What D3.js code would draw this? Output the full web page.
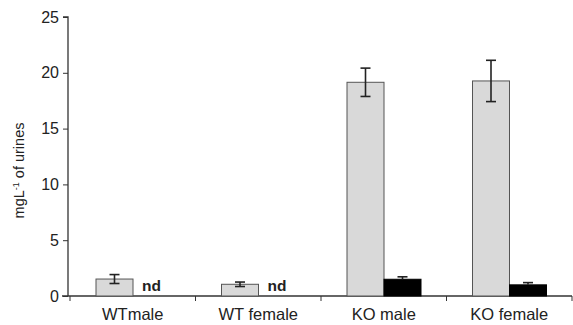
<!DOCTYPE html>
<html>
<head>
<meta charset="utf-8">
<script src="https://cdn.jsdelivr.net/npm/d3@7"></script>
<style>
  body { margin: 0; background: #fff; }
  text { font-family: "Liberation Sans", Arial, sans-serif; fill: #222; }
</style>
</head>
<body>
<div id="chart"></div>
<script>
// chart values
let categories = ["WTmale", "WT female", "KO male", "KO female"];
let grayValues = [1.52, 1.05, 19.15, 19.27];
let grayErrors = [0.4, 0.2, 1.27, 1.85];
let blackValues = [null, null, 1.5, 1.0];
let blackErrors = [null, null, 0.22, 0.2];
let yTicks = [0, 5, 10, 15, 20, 25];

let margin = {top: 17, right: 1, bottom: 29, left: 70};
let width = 573 - margin.left - margin.right;
let height = 325 - margin.top - margin.bottom;

let svg = d3.select("#chart").append("svg")
    .attr("width", 573)
    .attr("height", 325)
    .append("g")
    .attr("transform", "translate(" + margin.left + "," + margin.top + ")");

let x = d3.scaleBand()
    .domain(categories)
    .range([0, width])
    .paddingInner(0)
    .paddingOuter(0);

let y = d3.scaleLinear()
    .domain([0, 25])
    .range([height, 0]);

let barW = 37;
let offset = 26;

// y axis
let yAxis = d3.axisLeft(y).tickValues(yTicks).tickSize(5).tickPadding(4);
let yg = svg.append("g").attr("class", "y-axis").attr("transform", "translate(-2,0)").call(yAxis);
yg.select(".domain").attr("d", "M-5," + y(25) + "H0V" + height).attr("stroke", "#333").attr("stroke-width", 1.3);
yg.selectAll(".tick line").attr("stroke", "#333");
yg.selectAll(".tick text").style("font-size", "16px").attr("fill", "#222");

// x axis
svg.append("line")
    .attr("x1", -8).attr("x2", width)
    .attr("y1", height).attr("y2", height)
    .attr("stroke", "#333").attr("stroke-width", 1.3);

let tickPos = categories.map(c => x(c)).concat([width]);
svg.selectAll(".xtick").data(tickPos).enter().append("line")
    .attr("x1", d => d).attr("x2", d => d)
    .attr("y1", height).attr("y2", height + 5)
    .attr("stroke", "#333");

svg.selectAll(".xlabel").data(categories).enter().append("text")
    .attr("x", d => x(d) + x.bandwidth() / 2)
    .attr("y", height + 24)
    .attr("text-anchor", "middle")
    .style("font-size", "16.5px")
    .text(d => d);

// y axis label
svg.append("text")
    .attr("transform", "translate(-46," + (height / 2 + 14) + ") rotate(-90)")
    .attr("text-anchor", "middle")
    .style("font-size", "14.5px")
    .html('mgL<tspan dy="-5" font-size="9">-1</tspan><tspan dy="5"> of urines</tspan>');

// bars
categories.forEach((c, i) => {
    let cx = x(c) + offset;
    svg.append("rect")
        .attr("x", cx).attr("y", y(grayValues[i]))
        .attr("width", barW).attr("height", height - y(grayValues[i]))
        .attr("fill", "#d9d9d9").attr("stroke", "#555").attr("stroke-width", 1);
    drawError(cx + barW / 2, grayValues[i], grayErrors[i]);

    if (blackValues[i] !== null) {
        let bx = cx + barW;
        svg.append("rect")
            .attr("x", bx).attr("y", y(blackValues[i]))
            .attr("width", barW).attr("height", height - y(blackValues[i]))
            .attr("fill", "#000").attr("stroke", "#000");
        drawError(bx + barW / 2, blackValues[i], blackErrors[i], true);
    } else {
        svg.append("text")
            .attr("x", cx + barW + 9)
            .attr("y", height - 5)
            .style("font-size", "15.5px")
            .style("font-weight", "bold")
            .attr("fill", "#222")
            .text("nd");
    }
});

function drawError(cx, v, e, upOnly) {
    let top = y(v + e), bot = upOnly ? y(v) : y(v - e);
    svg.append("line").attr("x1", cx).attr("x2", cx).attr("y1", top).attr("y2", bot)
        .attr("stroke", "#222").attr("stroke-width", 1.6);
    svg.append("line").attr("x1", cx - 5).attr("x2", cx + 5).attr("y1", top).attr("y2", top)
        .attr("stroke", "#222").attr("stroke-width", 1.6);
    if (!upOnly) {
        svg.append("line").attr("x1", cx - 5).attr("x2", cx + 5).attr("y1", bot).attr("y2", bot)
            .attr("stroke", "#222").attr("stroke-width", 1.6);
    }
}
</script>
</body>
</html>
